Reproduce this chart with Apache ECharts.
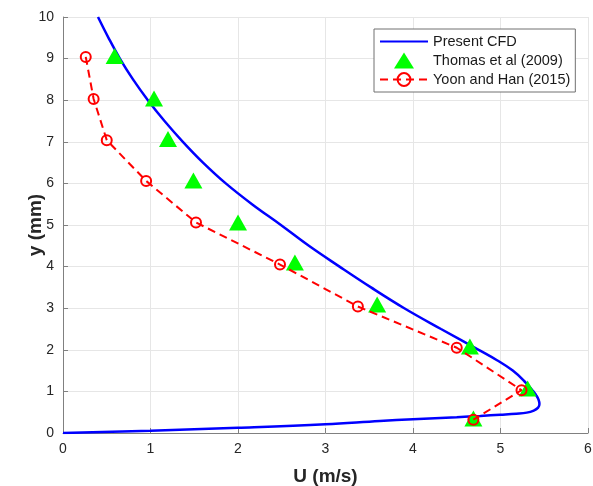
<!DOCTYPE html>
<html>
<head>
<meta charset="utf-8">
<script src="https://cdn.jsdelivr.net/npm/echarts@6/dist/echarts.min.js"></script>
<style>
  html, body { margin: 0; padding: 0; background: #fff; }
  #chart { width: 593px; height: 486px; }
</style>
</head>
<body>
<div id="chart"></div>
<script>
// Velocity profile U(y): CFD curve vs. two experimental data sets
const cfdU = [0, 1.0, 2.0, 3.0, 3.62, 4.0, 4.5, 4.77, 5.0, 5.18, 5.3, 5.38, 5.43, 5.445, 5.435, 5.41, 5.375, 5.27, 5.14, 4.96, 4.75, 4.32, 3.90, 3.52, 3.16, 2.81, 2.49, 2.16, 1.86, 1.60, 1.37, 1.16, 0.97, 0.80, 0.65, 0.52, 0.40];
const cfdY = [0, 0.055, 0.125, 0.21, 0.29, 0.33, 0.38, 0.41, 0.44, 0.465, 0.49, 0.54, 0.61, 0.7, 0.8, 0.9, 1.0, 1.25, 1.5, 1.75, 2.0, 2.5, 3.0, 3.5, 4.0, 4.5, 5.0, 5.5, 6.0, 6.5, 7.0, 7.5, 8.0, 8.5, 9.0, 9.5, 10.0];

const thomasU = [0.59, 1.04, 1.20, 1.49, 2.00, 2.65, 3.59, 4.65, 5.31, 4.69];
const thomasY = [9.06, 8.04, 7.07, 6.07, 5.06, 4.10, 3.09, 2.08, 1.07, 0.35];

const yoonU = [0.26, 0.35, 0.50, 0.95, 1.52, 2.48, 3.37, 4.50, 5.24, 4.69];
const yoonY = [9.04, 8.03, 7.04, 6.06, 5.06, 4.05, 3.04, 2.05, 1.03, 0.32];

const xTicks = [0, 1, 2, 3, 4, 5, 6];
const yTicks = [0, 1, 2, 3, 4, 5, 6, 7, 8, 9, 10];

const seriesNames = ['Present CFD', 'Thomas et al (2009)', 'Yoon and Han (2015)'];
const xTitle = 'U (m/s)';
const yTitle = 'y (mm)';

const pairs = (xs, ys) => xs.map((x, i) => [x, ys[i]]);

const FONT = "'Liberation Sans', Arial, sans-serif";
const axisGray = '#808080';
const labelColor = '#262626';

// Legend glyph for the triangle markers: invisible end points pin the
// path's bounds to the full 48x16 legend box so the triangle is not stretched.
const legendTriangle = 'path://M0,8L0.01,8M48,8L47.99,8M14,16L24,0L34,16Z';

const chart = echarts.init(document.getElementById('chart'), null, { renderer: 'canvas' });

const axisCommon = {
  axisLine: { show: true, onZero: false, lineStyle: { color: axisGray, width: 1 } },
  axisTick: { show: true, inside: true, length: 5, lineStyle: { color: axisGray } },
  splitLine: { show: true, lineStyle: { color: '#e6e6e6', width: 1 } },
  nameLocation: 'middle',
  nameMoveOverlap: false,
  nameTextStyle: { fontFamily: FONT, fontWeight: 'bold', fontSize: 19, color: labelColor }
};

chart.setOption({
  animation: false,
  backgroundColor: '#ffffff',
  grid: { left: 63, right: 5, top: 17, bottom: 53, containLabel: false, outerBoundsMode: 'none' },
  legend: {
    orient: 'vertical',
    left: 374,
    top: 29,
    padding: [5, 5, 5, 5],
    itemWidth: 48,
    itemHeight: 16,
    itemGap: 3.5,
    backgroundColor: '#ffffff',
    borderColor: '#707070',
    borderWidth: 1,
    textStyle: { fontFamily: FONT, fontSize: 14.5, color: '#1a1a1a' },
    data: [
      { name: seriesNames[0], itemStyle: { opacity: 0 } },
      { name: seriesNames[1], icon: legendTriangle },
      { name: seriesNames[2] }
    ]
  },
  xAxis: Object.assign({}, axisCommon, {
    type: 'value',
    min: xTicks[0],
    max: xTicks[xTicks.length - 1],
    interval: 1,
    name: xTitle,
    nameGap: 34,
    axisLabel: { fontFamily: FONT, fontSize: 14, color: labelColor, margin: 9 }
  }),
  yAxis: Object.assign({}, axisCommon, {
    type: 'value',
    min: yTicks[0],
    max: yTicks[yTicks.length - 1],
    interval: 1,
    name: yTitle,
    nameGap: 18,
    axisLabel: { fontFamily: FONT, fontSize: 14, color: labelColor, margin: 9 }
  }),
  series: [
    {
      name: seriesNames[0],
      type: 'line',
      data: pairs(cfdU, cfdY),
      smooth: 0.4,
      showSymbol: false,
      symbol: 'none',
      lineStyle: { color: '#0000ff', width: 2.5 },
      itemStyle: { color: '#0000ff' },
      z: 2
    },
    {
      name: seriesNames[1],
      type: 'scatter',
      data: pairs(thomasU, thomasY),
      symbol: 'triangle',
      symbolSize: [18, 16],
      itemStyle: { color: '#00ff00', opacity: 1 },
      z: 3
    },
    {
      name: seriesNames[2],
      type: 'line',
      data: pairs(yoonU, yoonY),
      symbol: 'circle',
      symbolSize: 10,
      showSymbol: true,
      lineStyle: { color: '#ff0000', width: 2, type: [8, 5] },
      itemStyle: { color: 'rgba(255,255,255,0)', borderColor: '#ff0000', borderWidth: 2 },
      z: 4
    }
  ]
});
</script>
</body>
</html>
